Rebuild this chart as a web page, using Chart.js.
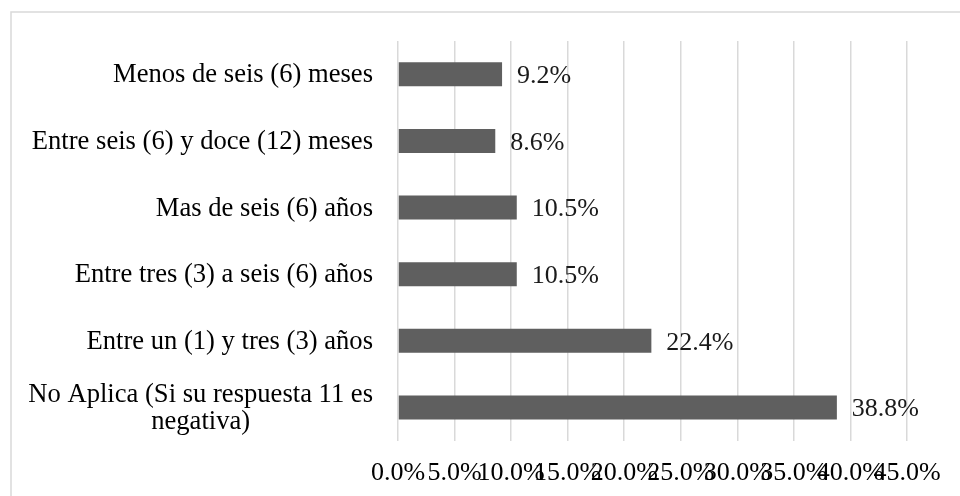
<!DOCTYPE html>
<html>
<head>
<meta charset="utf-8">
<script src="https://cdn.jsdelivr.net/npm/chart.js@4"></script>
<style>
  html, body { margin: 0; padding: 0; background: #fff; }
  #wrap { width: 960px; height: 496px; position: relative; }
</style>
</head>
<body>
<div id="wrap"><canvas id="grafico"></canvas></div>
<script>
// Datos
const categorias = [
    "Menos de seis (6) meses",
    "Entre seis (6) y doce (12) meses",
    "Mas de seis (6) años",
    "Entre tres (3) a seis (6) años",
    "Entre un (1) y tres (3) años",
    ["No Aplica (Si su respuesta 11 es", "negativa)"]
];
const porcentajes = [9.2, 8.6, 10.5, 10.5, 22.4, 38.8];
const ejeMin = 0;
const ejeMax = 45;
const ejePaso = 5;

const fuente = "'Liberation Serif', 'Times New Roman', serif";
const tamFuente = 26;
const tamCategorias = 26.6;

// Marco gris alrededor del gráfico
const marco = {
    id: 'marco',
    beforeDraw(chart) {
        const ctx = chart.ctx;
        ctx.save();
        ctx.strokeStyle = '#d9d9d9';
        ctx.lineWidth = 1.5;
        ctx.strokeRect(11, 12, chart.width + 20, chart.height + 20);
        ctx.restore();
    }
};

// Etiquetas del eje Y (texto de varias líneas centrado como en Excel)
const etiquetasY = {
    id: 'etiquetasY',
    afterDraw(chart) {
        const ctx = chart.ctx;
        const y = chart.scales.y;
        ctx.save();
        ctx.font = tamCategorias + 'px ' + fuente;
        ctx.fillStyle = '#000';
        ctx.textAlign = 'center';
        ctx.textBaseline = 'middle';
        const derecha = chart.chartArea.left - 25;
        const alto = 27;
        categorias.forEach((cat, i) => {
            const lineas = Array.isArray(cat) ? cat : [cat];
            const anchoMax = Math.max(...lineas.map(l => ctx.measureText(l).width));
            const cx = derecha - anchoMax / 2;
            const cy = y.getPixelForTick(i) + 1;
            const y0 = cy - (lineas.length - 1) * alto / 2;
            lineas.forEach((l, k) => ctx.fillText(l, cx, y0 + k * alto));
        });
        ctx.restore();
    }
};

// Valores al final de cada barra
const valores = {
    id: 'valores',
    afterDatasetsDraw(chart) {
        const ctx = chart.ctx;
        const meta = chart.getDatasetMeta(0);
        ctx.save();
        ctx.font = tamFuente + 'px ' + fuente;
        ctx.fillStyle = '#1a1a1a';
        ctx.textAlign = 'left';
        ctx.textBaseline = 'middle';
        meta.data.forEach((bar, i) => {
            ctx.fillText(porcentajes[i].toFixed(1) + '%', bar.x + 15, bar.y + 2);
        });
        ctx.restore();
    }
};

new Chart(document.getElementById('grafico').getContext('2d'), {
    type: 'bar',
    data: {
        labels: categorias,
        datasets: [{
            data: porcentajes,
            backgroundColor: '#5f5f5f',
            categoryPercentage: 1,
            barPercentage: 0.36
        }]
    },
    options: {
        indexAxis: 'y',
        responsive: true,
        maintainAspectRatio: false,
        animation: false,
        layout: { padding: { left: 398, right: 53, top: 41, bottom: -10 } },
        plugins: {
            legend: { display: false },
            tooltip: { enabled: false }
        },
        scales: {
            x: {
                min: ejeMin,
                max: ejeMax,
                border: { display: false },
                grid: { color: '#d9d9d9', lineWidth: 1.5, drawTicks: false },
                ticks: {
                    stepSize: ejePaso,
                    autoSkip: false,
                    maxRotation: 0,
                    minRotation: 0,
                    padding: 17,
                    color: '#000',
                    font: { family: fuente, size: tamFuente },
                    callback: v => v.toFixed(1) + '%'
                }
            },
            y: {
                border: { display: false },
                grid: { display: false, drawTicks: false },
                ticks: { display: false }
            }
        }
    },
    plugins: [marco, etiquetasY, valores]
});
</script>
</body>
</html>
